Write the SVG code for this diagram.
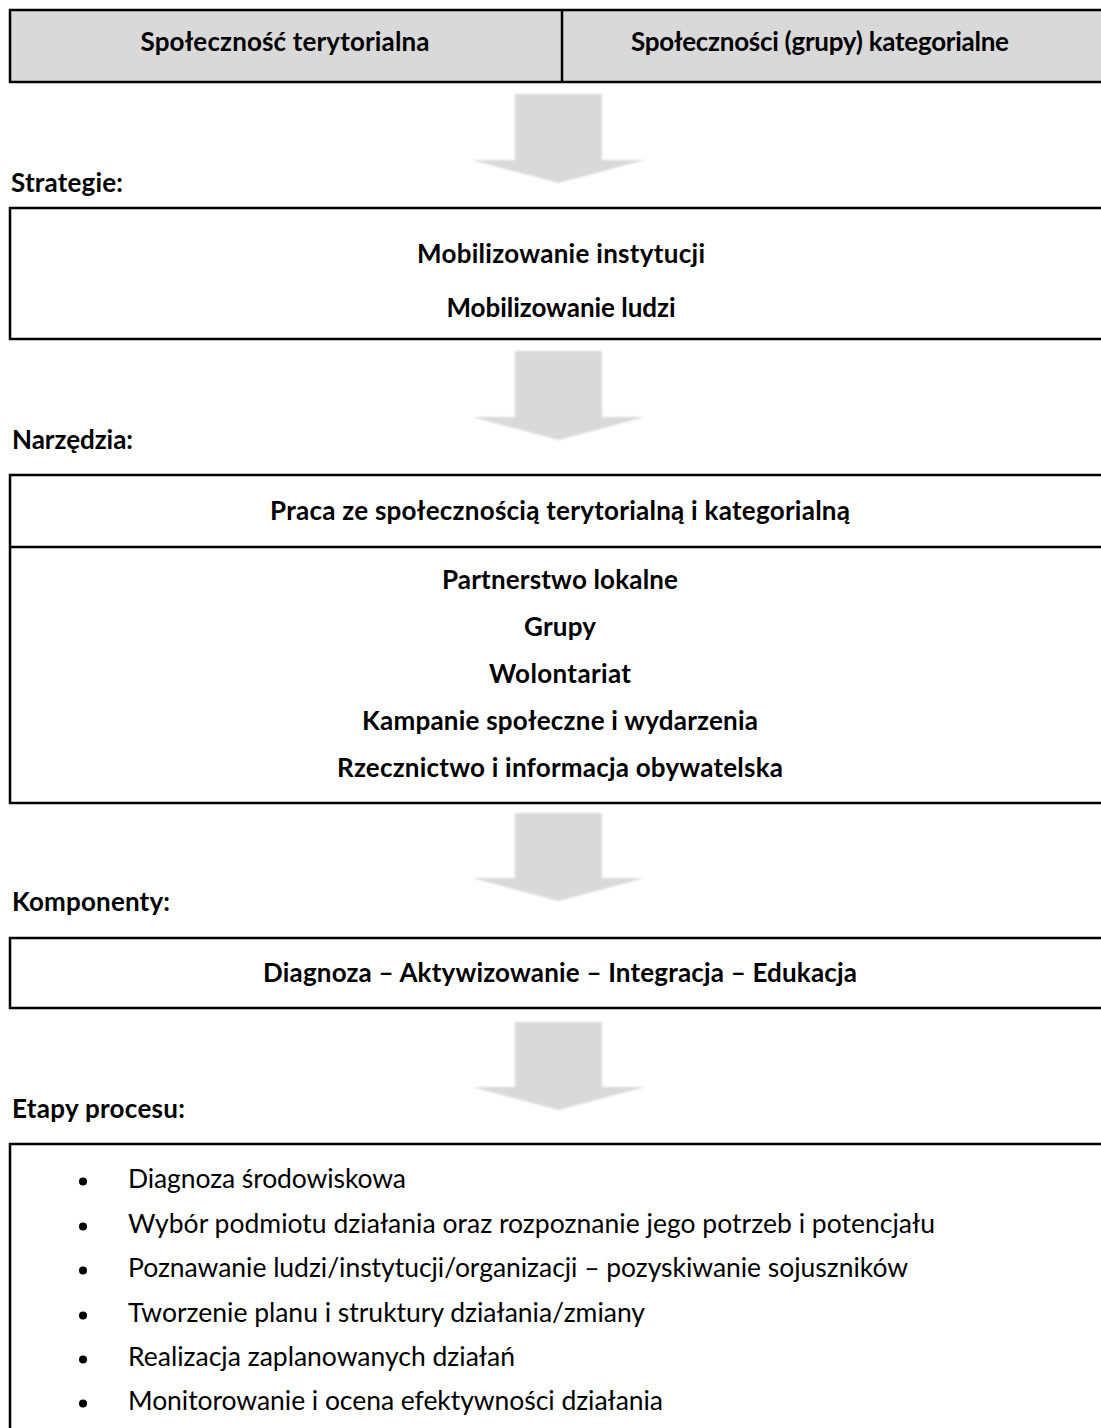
<svg xmlns="http://www.w3.org/2000/svg" width="1101" height="1428" viewBox="0 0 1101 1428">
<style>
.box{fill:#ffffff;stroke:#000000;stroke-width:2.5}
.hbox{fill:#d9d9d9;stroke:#000000;stroke-width:2.5}
.ln{stroke:#000000;stroke-width:2.5}
.b{font-family:Lato,"Liberation Sans",sans-serif;font-weight:bold;font-size:26px;fill:#000000}
.c{text-anchor:middle}
.r{font-family:Lato,"Liberation Sans",sans-serif;font-size:26.5px;fill:#000000}
.arrow{fill:#d9d9d9;filter:url(#soft)}
.dot{fill:#000000}
</style>
<defs>
<filter id="soft" x="-10%" y="-10%" width="120%" height="120%">
<feGaussianBlur stdDeviation="1"/>
</filter>
</defs>
<rect width="1101" height="1428" fill="#ffffff"/>

<g id="header">
<rect class="hbox" x="10" y="10" width="1110" height="72"/>
<line class="ln" x1="562" y1="10" x2="562" y2="82"/>
<text class="b c" x="285" y="51" textLength="289">Społeczność terytorialna</text>
<text class="b c" x="820" y="51" textLength="378">Społeczności (grupy) kategorialne</text>
</g>

<g id="connectors">
<path class="arrow" d="M515,94 H602 V160 H645 L558.5,183 L472,160 H515 Z"/>
<path class="arrow" d="M515,351 H602 V417 H645 L558.5,440 L472,417 H515 Z"/>
<path class="arrow" d="M515,813 H602 V878 H645 L558.5,901 L472,878 H515 Z"/>
<path class="arrow" d="M515,1022 H602 V1087 H645 L558.5,1110 L472,1087 H515 Z"/>
</g>

<g id="strategie">
<text class="b" x="11" y="192" textLength="112">Strategie:</text>
<rect class="box" x="10" y="208" width="1110" height="131"/>
<text class="b c" x="561" y="263" textLength="288">Mobilizowanie instytucji</text>
<text class="b c" x="561" y="317" textLength="229">Mobilizowanie ludzi</text>
</g>

<g id="narzedzia">
<text class="b" x="12" y="449" textLength="121">Narzędzia:</text>
<rect class="box" x="10" y="475" width="1110" height="328"/>
<line class="ln" x1="10" y1="547" x2="1110" y2="547"/>
<text class="b c" x="560" y="520" textLength="580">Praca ze społecznością terytorialną i kategorialną</text>
<text class="b c" x="560" y="589" textLength="236">Partnerstwo lokalne</text>
<text class="b c" x="560" y="636" textLength="72">Grupy</text>
<text class="b c" x="560" y="683" textLength="142">Wolontariat</text>
<text class="b c" x="560" y="730" textLength="396">Kampanie społeczne i wydarzenia</text>
<text class="b c" x="560" y="777" textLength="446">Rzecznictwo i informacja obywatelska</text>
</g>

<g id="komponenty">
<text class="b" x="12" y="911" textLength="158">Komponenty:</text>
<rect class="box" x="10" y="938" width="1110" height="70"/>
<text class="b c" x="560" y="982" textLength="594">Diagnoza – Aktywizowanie – Integracja – Edukacja</text>
</g>

<g id="etapy">
<text class="b" x="12" y="1118" textLength="173">Etapy procesu:</text>
<rect class="box" x="10" y="1144" width="1110" height="300"/>
<circle class="dot" cx="83" cy="1181.5" r="4"/>
<text class="r" x="128" y="1188" textLength="278">Diagnoza środowiskowa</text>
<circle class="dot" cx="83" cy="1226.5" r="4"/>
<text class="r" x="128" y="1233" textLength="807">Wybór podmiotu działania oraz rozpoznanie jego potrzeb i potencjału</text>
<circle class="dot" cx="83" cy="1270.5" r="4"/>
<text class="r" x="128" y="1277" textLength="780">Poznawanie ludzi/instytucji/organizacji – pozyskiwanie sojuszników</text>
<circle class="dot" cx="83" cy="1315.5" r="4"/>
<text class="r" x="128" y="1322" textLength="517">Tworzenie planu i struktury działania/zmiany</text>
<circle class="dot" cx="83" cy="1359.5" r="4"/>
<text class="r" x="128" y="1366" textLength="387">Realizacja zaplanowanych działań</text>
<circle class="dot" cx="83" cy="1403.5" r="4"/>
<text class="r" x="128" y="1410" textLength="535">Monitorowanie i ocena efektywności działania</text>
</g>
</svg>
